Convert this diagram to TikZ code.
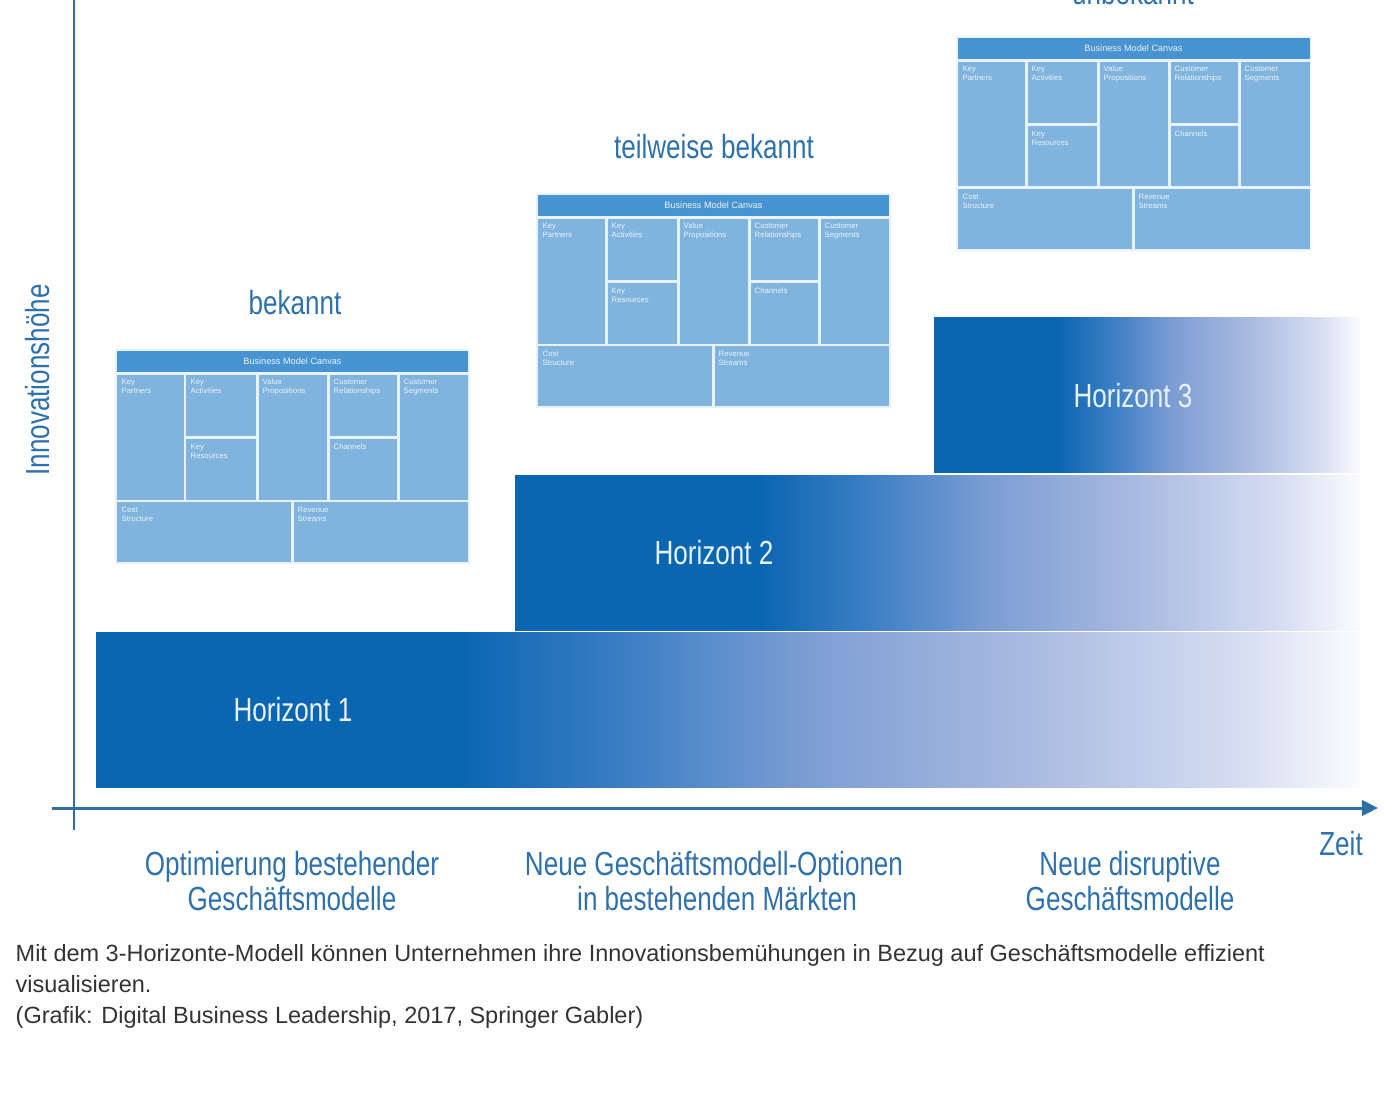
\documentclass[tikz,border=0pt]{standalone}
\usepackage{fontspec}
\setmainfont{Liberation Sans}
\newfontfamily\condfont[FakeStretch=0.78]{Liberation Sans}
\usetikzlibrary{arrows.meta}
\definecolor{hdark}{HTML}{0B66B2}
\definecolor{hmidA}{HTML}{3C7FC4}
\definecolor{hmidB}{HTML}{7C9DD3}
\definecolor{hmidC}{HTML}{AABBE1}
\definecolor{hmidD}{HTML}{D4DCF1}
\definecolor{hend}{HTML}{FBFBFE}
\definecolor{axisblue}{HTML}{2E6FA6}
\definecolor{labelblue}{HTML}{2F71AD}
\definecolor{cellblue}{HTML}{80B3DD}
\definecolor{titleblue}{HTML}{4893D2}
\definecolor{gapcol}{HTML}{E6F3FC}
\definecolor{htext}{HTML}{E8F2FB}
\definecolor{captiongray}{HTML}{333333}
\pgfdeclarehorizontalshading{hfade}{100bp}{color(0bp)=(hdark); color(25bp)=(hdark); color(39.5bp)=(hdark); color(46bp)=(hmidA); color(53bp)=(hmidB); color(62bp)=(hmidC); color(70bp)=(hmidD); color(75bp)=(hend); color(100bp)=(hend)}
\tikzset{
  axisline/.style={draw=axisblue, line width=0.85pt},
  bar/.style={shading=hfade},
  htxt/.style={font=\condfont\fontsize{9.5}{11}\selectfont, text=htext, anchor=base, inner sep=0},
  lbl/.style={font=\condfont\fontsize{9.5}{11}\selectfont, text=labelblue, anchor=base, inner sep=0},
  captxt/.style={font=\fontsize{6.68}{8}\selectfont, text=captiongray, anchor=base west, inner sep=0},
  gapline/.style={draw=gapcol, line width=0.85pt},
  bmctitle/.style={font=\fontsize{2.6}{3}\selectfont, text=white!90!titleblue, inner sep=0},
  bmclab/.style={font=\fontsize{2.2}{2.7}\selectfont, text=white!85!cellblue, anchor=north west, align=left, inner sep=0},
  pics/bmc/.style={code={
    \fill[cellblue] (0,0) rectangle (353,213);
    \fill[titleblue] (0,0) rectangle (353,22);
    \draw[gapline] (0,23.5) -- (353,23.5) (0,151) -- (353,151)
      (69,23.5) -- (69,151) (141,23.5) -- (141,151) (212,23.5) -- (212,151) (282,23.5) -- (282,151)
      (69,87.5) -- (141,87.5) (212,87.5) -- (282,87.5) (176,151) -- (176,213);
    \draw[draw=gapcol, line width=0.3pt] (0,0) rectangle (353,213);
    \node[bmctitle] (-title) at (176.5,11) {Business Model Canvas};
    \node[bmclab] (-kp) at (5,28) {Key\\Partners};
    \node[bmclab] (-ka) at (74,28) {Key\\Activities};
    \node[bmclab] (-vp) at (146,28) {Value\\Propositions};
    \node[bmclab] (-cr) at (217,28) {Customer\\Relationships};
    \node[bmclab] (-cs) at (287,28) {Customer\\Segments};
    \node[bmclab] (-kr) at (74,93) {Key\\Resources};
    \node[bmclab] (-ch) at (217,93) {Channels};
    \node[bmclab] (-cost) at (5,156) {Cost\\Structure};
    \node[bmclab] (-rev) at (181,156) {Revenue\\Streams};
  }}
}
\begin{document}
\begin{tikzpicture}[x=0.01cm, y=-0.01cm]
\useasboundingbox (0,0) rectangle (1386,1119);
% horizon bars
\shade[bar] (96,632) rectangle (1360,787);
\shade[bar] (515,475) rectangle (1360,630);
\shade[bar] (934,318) rectangle (1360,472);
\node[htxt] (h1) at (293,721) {Horizont 1};
\node[htxt] (h2) at (714,564) {Horizont 2};
\node[htxt] (h3) at (1133,407) {Horizont 3};
% canvases
\pic (c1) at (116,350) {bmc};
\pic (c2) at (537,194) {bmc};
\pic (c3) at (957,37) {bmc};
\node[lbl] (k1) at (295,315) {bekannt};
\node[lbl] (k2) at (714,159) {teilweise bekannt};
\node[lbl] (k3) at (1133,5) {unbekannt};
% axes
\coordinate (yb) at (74,830);
\coordinate (yt) at (74,-5);
\coordinate (xs) at (52,808);
\coordinate (xe) at (1378,808);
\draw[axisline] (yb) -- (yt);
\draw[axisline, -{Triangle[length=4.6pt, width=4.4pt]}] (xs) -- (xe);
\node[lbl, rotate=90] (yl) at (49,380) {Innovationshöhe};
\node[lbl] (zeit) at (1341,855) {Zeit};
% bottom labels
\node[lbl] (b1a) at (292,875) {Optimierung bestehender};
\node[lbl] (b1b) at (292,910) {Geschäftsmodelle};
\node[lbl] (b2a) at (714,875) {Neue Geschäftsmodell-Optionen};
\node[lbl] (b2b) at (717,910) {in bestehenden Märkten};
\node[lbl] (b3a) at (1130,875) {Neue disruptive};
\node[lbl] (b3b) at (1130,910) {Geschäftsmodelle};
% caption
\node[captxt] (cap1) at (15,961) {Mit dem 3-Horizonte-Modell können Unternehmen ihre Innovationsbemühungen in Bezug auf Geschäftsmodelle effizient};
\node[captxt] (cap2) at (15,992) {visualisieren.};
\node[captxt] (cap3) at (15,1023) {(Grafik: Digital Business Leadership, 2017, Springer Gabler)};
\end{tikzpicture}
\end{document}
